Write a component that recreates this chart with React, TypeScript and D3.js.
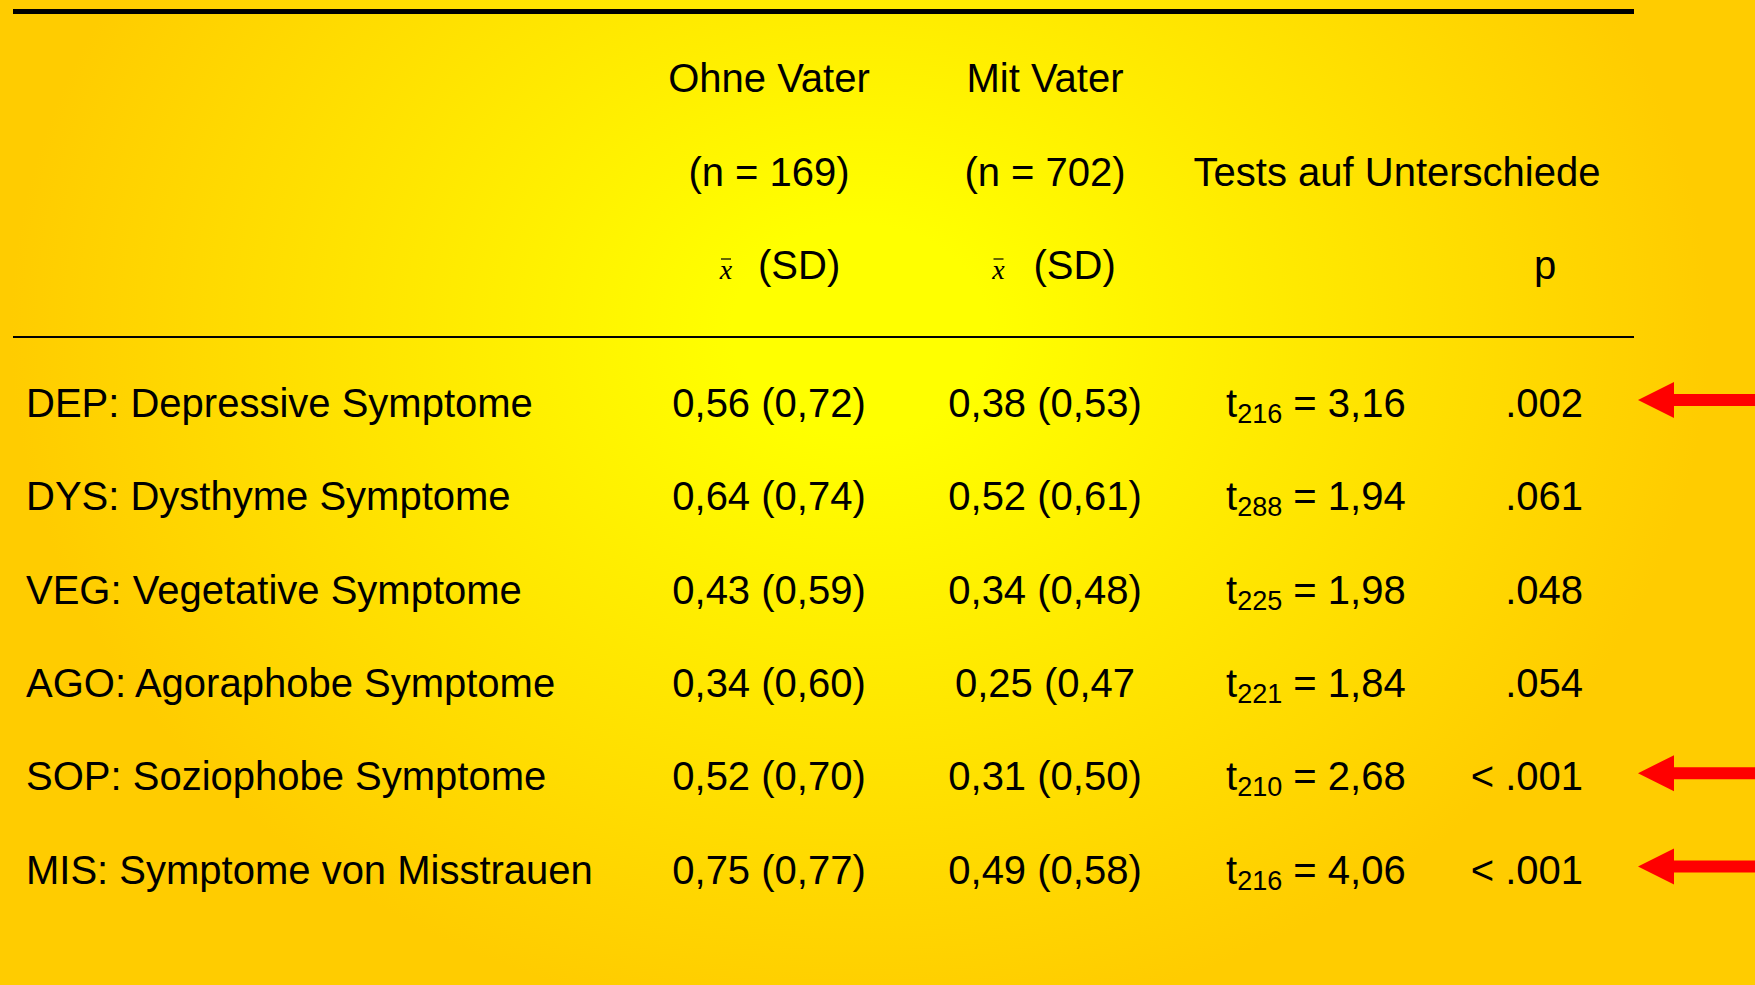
import React from "react";
import * as d3 from "d3";

const categories = [
  "DEP: Depressive Symptome",
  "DYS: Dysthyme Symptome",
  "VEG: Vegetative Symptome",
  "AGO: Agoraphobe Symptome",
  "SOP: Soziophobe Symptome",
  "MIS: Symptome von Misstrauen",
];
const ohneMean = [0.56, 0.64, 0.43, 0.34, 0.52, 0.75];
const ohneSD = [0.72, 0.74, 0.59, 0.6, 0.7, 0.77];
const mitMean = [0.38, 0.52, 0.34, 0.25, 0.31, 0.49];
const mitSD = [0.53, 0.61, 0.48, 0.47, 0.5, 0.58];
const mitClosed = [true, true, true, false, true, true];
const tDf = [216, 288, 225, 221, 210, 216];
const tValue = [3.16, 1.94, 1.98, 1.84, 2.68, 4.06];
const pLabels = [".002", ".061", ".048", ".054", "< .001", "< .001"];
const highlighted = [true, false, false, false, true, true];

const headerOhne = ["Ohne Vater", "(n = 169)"];
const headerMit = ["Mit Vater", "(n = 702)"];
const headerTests = "Tests auf Unterschiede";
const headerP = "p";

const W = 1755;
const H = 985;
const FONT = "'Liberation Sans', Arial, Helvetica, sans-serif";
const FS = 40;

const fmt2 = (v: number) => d3.format(".2f")(v).replace(".", ",");

export default function App() {
  const rowY = d3
    .scalePoint<string>()
    .domain(categories)
    .range([417, 883.5]);
  const headerY = d3.scalePoint<number>().domain([0, 1, 2]).range([92, 279]);
  const colX = d3
    .scaleOrdinal<string, number>()
    .domain(["label", "ohne", "mit", "test", "p", "xbarOhne", "sdOhne", "xbarMit", "sdMit", "tests"])
    .range([26, 769, 1045, 1226, 1583, 726, 758, 998.5, 1033.5, 1397]);

  const lineX0 = 13;
  const lineX1 = 1634;

  return (
    <svg
      width={W}
      height={H}
      style={{ position: "absolute", left: 0, top: 0, display: "block" }}
      fontFamily={FONT}
      fontSize={FS}
    >
      <defs>
        <radialGradient
          id="bg"
          gradientUnits="userSpaceOnUse"
          cx={0}
          cy={0}
          r={1}
          gradientTransform="translate(860,330) scale(850,700)"
        >
          <stop offset="0" stopColor="#FFFF00" />
          <stop offset="0.15" stopColor="#FFFF00" />
          <stop offset="1" stopColor="#FFCC00" />
        </radialGradient>
      </defs>
      <rect x={0} y={0} width={W} height={H} fill="url(#bg)" />

      {/* rules */}
      <line x1={lineX0} x2={lineX1} y1={11.5} y2={11.5} stroke="#000" strokeWidth={5} />
      <line x1={lineX0} x2={lineX1} y1={337} y2={337} stroke="#000" strokeWidth={2} />

      {/* header */}
      {headerOhne.map((t, i) => (
        <text key={"ho" + i} x={colX("ohne")} y={headerY(i)} textAnchor="middle">
          {t}
        </text>
      ))}
      {headerMit.map((t, i) => (
        <text key={"hm" + i} x={colX("mit")} y={headerY(i)} textAnchor="middle">
          {t}
        </text>
      ))}
      <text x={colX("tests")} y={headerY(1)} textAnchor="middle">
        {headerTests}
      </text>
      {[
        ["xbarOhne", "sdOhne"],
        ["xbarMit", "sdMit"],
      ].map(([xk, sk]) => (
        <g key={xk}>
          <text
            x={colX(xk)}
            y={headerY(2)}
            textAnchor="middle"
            fontFamily="'Liberation Serif', 'Times New Roman', serif"
            fontStyle="italic"
            fontSize={28}
          >
            x
          </text>
          <line
            x1={colX(xk) - 5}
            x2={colX(xk) + 5}
            y1={headerY(2) - 20}
            y2={headerY(2) - 20}
            stroke="#000"
            strokeWidth={1.2}
          />
          <text x={colX(sk)} y={headerY(2)}>
            (SD)
          </text>
        </g>
      ))}
      <text x={1545} y={headerY(2)} textAnchor="middle">
        {headerP}
      </text>

      {/* body */}
      {categories.map((c, i) => {
        const y = rowY(c) as number;
        return (
          <g key={c}>
            <text x={colX("label")} y={y}>
              {c}
            </text>
            <text x={colX("ohne")} y={y} textAnchor="middle">
              {`${fmt2(ohneMean[i])} (${fmt2(ohneSD[i])})`}
            </text>
            <text x={colX("mit")} y={y} textAnchor="middle">
              {`${fmt2(mitMean[i])} (${fmt2(mitSD[i])}${mitClosed[i] ? ")" : ""}`}
            </text>
            <text x={colX("test")} y={y}>
              t
              <tspan fontSize={27} dy={6}>
                {tDf[i]}
              </tspan>
              <tspan dy={-6}>{` = ${fmt2(tValue[i])}`}</tspan>
            </text>
            <text x={colX("p")} y={y} textAnchor="end">
              {pLabels[i]}
            </text>
            {highlighted[i] && (
              <path
                d={`M1638,${y - 17} L1674,${y - 35} L1674,${y - 23} L${W},${y - 23} L${W},${y - 11} L1674,${y - 11} L1674,${y + 1} Z`}
                fill="#FF0000"
              />
            )}
          </g>
        );
      })}
    </svg>
  );
}
